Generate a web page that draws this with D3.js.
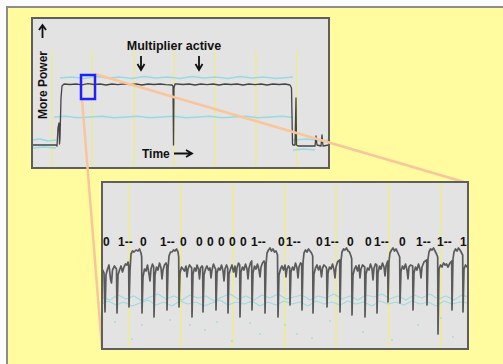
<!DOCTYPE html>
<html>
<head>
<meta charset="utf-8">
<script src="https://cdn.jsdelivr.net/npm/d3@7"></script>
<style>
  body { margin: 0; background: #fbfbfb; }
  svg { display: block; font-family: "Liberation Sans", Arial, sans-serif; }
</style>
</head>
<body>
<svg id="chart" width="503" height="364"></svg>
<script>
// upper trace: [sample, power]
const upperTrace = [
  [0, 23], [24, 23], [25, 22], [26, 40], [27, 45], [27.5, 24], [28, 30], [29, 70], [30, 82],
  [32, 84], [38, 83.5], [44, 84], [50, 83.2], [56, 84.3], [62, 83.5], [68, 84], [74, 83], [80, 84],
  [86, 83.4], [92, 84.2], [98, 83.3], [104, 84], [110, 83], [116, 84], [122, 83.5], [128, 84], [134, 83.4],
  [140, 83], [141, 82], [141.5, 23], [142, 80], [143, 84], [145, 84], [151, 83.5], [157, 84],
  [163, 83], [169, 84], [175, 83.4], [181, 84], [187, 83], [193, 84], [199, 83.5], [205, 84],
  [211, 83], [217, 84], [223, 83.4], [229, 84], [235, 83], [241, 84], [247, 83.5], [253, 84],
  [258, 83], [259.5, 80], [260.5, 24], [261, 23], [263, 23], [264, 70], [264.5, 23], [266, 22],
  [283, 22], [284, 32], [285, 23], [289, 22], [290, 33], [291, 22], [297, 23]
];
const cyanTopA = [[28, 90], [40, 91], [52, 89.5], [64, 91.5], [76, 90], [88, 91], [100, 89.5], [112, 91.5],
  [124, 90], [136, 91], [148, 89.5], [160, 91.5], [172, 90], [184, 91], [196, 89.5], [208, 91.5],
  [220, 90], [232, 91], [244, 89.5], [261, 91]];
const cyanTopB = [[22, 51], [34, 51.8], [46, 50.3], [58, 51], [70, 51.8], [82, 50.3], [94, 51], [106, 51.8],
  [118, 50.3], [130, 51], [142, 51.8], [154, 50.3], [166, 51], [178, 51.8], [190, 50.3], [202, 51],
  [214, 51.8], [226, 50.3], [238, 51], [250, 51.8], [261, 50.5]];
const cyanLeftA = [[0, 28], [8, 29], [16, 27], [24, 28]];
const cyanLeftB = [[0, 20], [12, 21], [24, 20]];
const cyanRightA = [[261, 28], [275, 29], [290, 27], [297, 28]];
const cyanRightB = [[261, 18], [272, 19], [283, 18]];
const upperGrid = [20, 60, 102, 142, 183, 224, 265];
const arrowTimes = [109, 167];
const zoomWindow = { t0: 49, t1: 63, p0: 69, p1: 93 };

// lower (zoomed) trace: [sample, power]
const lowerTrace = [
  [0, 80], [1, 78], [2, 76], [3, 37], [4, 74], [5.5, 80], [7, 84], [8.5, 70], [9.5, 66], [10.5, 79], [12.5, 83], [14.5, 80],
  [15, 36], [16, 74], [17.5, 79], [19, 83], [20.5, 77], [22, 82], [23.5, 85], [25, 84], [26, 87], [26.7, 83],
  [27, 42], [28, 78], [29, 95], [30.5, 98], [32, 97], [34, 99], [36, 98], [37.5, 100], [39, 96], [39.7, 92],
  [40, 36], [41, 72], [42.5, 80], [44, 78], [45.5, 84], [47, 75], [48, 68], [49, 80], [50.5, 85], [51.7, 82],
  [52, 32], [53, 74], [54.5, 82], [56, 79], [57.5, 86], [59, 81], [60, 70], [61, 79], [62.5, 84], [64, 86], [64.7, 84],
  [65, 39], [66, 80], [67, 93], [68.5, 97], [70, 97], [71.5, 99], [73, 98], [74.5, 100], [76, 97], [76.7, 92],
  [77, 42], [78, 76], [79.5, 82], [81, 80], [82.5, 78], [84, 83], [85, 72], [86, 80], [87.5, 84], [89, 82], [89.7, 81],
  [90, 32], [91, 75], [92.5, 81], [94, 78], [95, 84], [96.5, 80], [97.5, 70], [98.5, 81], [100, 83], [100.7, 82],
  [101, 37], [102, 74], [103.5, 80], [105, 83], [106.5, 79], [108, 81], [109, 71], [110, 79], [111.5, 85], [113, 81], [113.7, 80],
  [114, 39], [115, 76], [116.5, 81], [118, 79], [119.5, 84], [121, 78], [122, 68], [123, 80], [124.5, 84], [125.7, 81],
  [126, 36], [127, 75], [128.5, 80], [130, 84], [131.5, 77], [133, 83], [134, 72], [135, 81], [136.5, 86], [137.7, 84],
  [138, 32], [139, 77], [140.5, 82], [142, 79], [143.5, 85], [145, 80], [146, 70], [147, 81], [148.5, 86], [149.7, 88],
  [150, 39], [151, 76], [152.5, 83], [154, 80], [155.5, 85], [157, 79], [158, 72], [159, 82], [160.5, 86], [162, 88], [162.7, 86],
  [163, 36], [164, 84], [165, 96], [166.5, 99], [168, 101], [169.5, 98], [171, 100], [172.5, 97], [174, 98], [175.5, 94],
  [176, 32], [177, 74], [178.5, 80], [180, 83], [181.5, 79], [183, 84], [184, 72], [185, 80], [186.5, 83], [187.7, 81],
  [188, 44], [189, 77], [190.5, 82], [192, 79], [193.5, 86], [195, 81], [196, 71], [197, 82], [198.5, 86], [199.7, 85],
  [200, 39], [201, 86], [202, 96], [203.5, 99], [205, 97], [206.5, 100], [208, 98], [209.5, 96], [210.7, 93],
  [211, 36], [212, 75], [213.5, 81], [215, 84], [216.5, 79], [218, 83], [219.5, 72], [220.5, 81], [222, 84], [224, 82], [224.7, 80],
  [225, 42], [226, 76], [227.5, 82], [229, 80], [230.5, 85], [232, 79], [233, 71], [234, 82], [235.5, 87], [237.7, 89],
  [238, 37], [239, 88], [240, 97], [241.5, 100], [243, 99], [244.5, 101], [246, 98], [247.5, 97], [249, 93], [249.7, 90],
  [250, 34], [251, 74], [252.5, 80], [254, 83], [255.5, 78], [257, 84], [258, 71], [259, 80], [260.5, 84], [262.7, 82],
  [263, 32], [264, 75], [265.5, 81], [267, 79], [268.5, 85], [270, 80], [271, 69], [272, 81], [273.5, 85], [274.7, 84],
  [275, 36], [276, 76], [277.5, 83], [279, 80], [280.5, 86], [282, 82], [283, 73], [284, 83], [285.7, 88],
  [286, 47], [287, 88], [288, 96], [289.5, 99], [291, 101], [292.5, 98], [294, 100], [295.5, 97], [297.7, 92],
  [298, 46], [299, 78], [300.5, 83], [302, 80], [303.5, 85], [305, 79], [306, 70], [307, 82], [308.5, 84], [310.7, 83],
  [311, 39], [312, 76], [313.5, 82], [315, 79], [316.5, 85], [318, 80], [319, 71], [320, 82], [322, 87], [324.7, 89],
  [325, 44], [326, 90], [327, 97], [328.5, 100], [330, 99], [331.5, 101], [333, 98], [334.5, 95], [335.7, 92],
  [336, 15], [337, 80], [338.5, 84], [340, 82], [341.5, 86], [343, 84], [344.5, 85], [346, 82], [348, 86], [349.7, 88],
  [350, 39], [351, 90], [352, 97], [353.5, 100], [355, 98], [356.5, 101], [358, 99], [360.7, 94],
  [361, 37], [362, 80], [363.5, 84], [365, 82], [366, 83]
];
const cyanLowA = [[0, 52], [8, 49], [16, 54], [24, 50], [32, 53], [40, 48], [48, 52], [56, 55], [64, 50],
  [72, 53], [80, 49], [88, 54], [96, 51], [104, 53], [112, 48], [120, 52], [128, 55], [136, 50],
  [144, 53], [152, 49], [160, 54], [168, 51], [176, 55], [184, 50], [192, 52], [200, 54], [208, 49],
  [216, 53], [224, 51], [232, 55], [240, 50], [248, 53], [256, 49], [264, 54], [272, 52], [280, 55],
  [288, 50], [296, 53], [304, 49], [312, 54], [320, 51], [328, 55], [336, 50], [344, 53], [352, 49],
  [360, 54], [366, 52]];
const cyanLowB = [[0, 45], [6, 48], [14, 44], [22, 47], [30, 43], [38, 46], [46, 49], [54, 44], [62, 47],
  [70, 43], [78, 48], [86, 45], [94, 47], [102, 43], [110, 46], [118, 49], [126, 44], [134, 47],
  [142, 45], [150, 48], [158, 43], [166, 47], [174, 44], [182, 48], [190, 45], [198, 47], [206, 43],
  [214, 48], [222, 45], [230, 47], [238, 44], [246, 48], [254, 45], [262, 47], [270, 43], [278, 48],
  [286, 45], [294, 47], [302, 44], [310, 48], [318, 45], [326, 47], [334, 43], [342, 48], [350, 45],
  [358, 47], [366, 46]];
const cyanDots = [[13, 27], [40, 24], [68, 29], [88, 24], [103, 19], [115, 27], [148, 26], [158, 15],
  [183, 24], [195, 15], [228, 28], [261, 17], [316, 24], [339, 31], [351, 12], [30, 10], [130, 8],
  [210, 11], [290, 9]];
const lowerGrid = [27, 79, 131, 183, 234, 287, 339];
const bitText = ["0", "1--", "0", "1--", "0", "0", "0", "0", "0", "0", "1--", "0", "1--", "0", "1--",
  "0", "0", "1--", "0", "1--", "1--", "1"];
const bitTime = [1, 16, 38, 58, 78, 94, 105, 116, 127, 138, 149, 176, 184, 214, 222, 245, 263, 272,
  297, 314, 335, 358];

const svg = d3.select("#chart");

const xTop = d3.scaleLinear().domain([0, 297]).range([32, 329]);
const yTop = d3.scaleLinear().domain([0, 150]).range([168, 18]);
const xLow = d3.scaleLinear().domain([0, 366]).range([102, 468]);
const yLow = d3.scaleLinear().domain([0, 167]).range([349, 182]);

const colors = {
  frame: "#fffb9e", frameEdge: "#8c8c8c", panel: "#e3e3e3", edge: "#5e5e5e",
  grid: "#efec8a", cyan: "#8ad8e0", trace: "#444", zoomLine: "#f8c69a", box: "#2020ff"
};

// outer yellow frame
svg.append("rect").attr("x", 7).attr("y", 7).attr("width", 520).attr("height", 380)
  .attr("fill", colors.frame).attr("stroke", colors.frameEdge).attr("stroke-width", 2);

svg.append("defs").call(d => {
  d.append("clipPath").attr("id", "clipTop").append("rect")
    .attr("x", 32).attr("y", 18).attr("width", 297).attr("height", 150);
  d.append("clipPath").attr("id", "clipLow").append("rect")
    .attr("x", 102).attr("y", 182).attr("width", 366).attr("height", 167);
});

function drawLine(g, data, x, y, color, width, opacity) {
  g.append("path").datum(data)
    .attr("d", d3.line().x(d => x(d[0])).y(d => y(d[1])))
    .attr("fill", "none").attr("stroke", color).attr("stroke-width", width)
    .attr("stroke-opacity", opacity || 1).attr("stroke-linejoin", "round");
}

// ---- upper panel
svg.append("rect").attr("x", 32).attr("y", 18).attr("width", 297).attr("height", 150)
  .attr("fill", colors.panel);
const gTop = svg.append("g").attr("clip-path", "url(#clipTop)");

gTop.selectAll(".grid").data(upperGrid).join("line")
  .attr("x1", d => xTop(d)).attr("x2", d => xTop(d))
  .attr("y1", yTop(118)).attr("y2", yTop(0))
  .attr("stroke", colors.grid).attr("stroke-width", 1.3);

[cyanTopA, cyanTopB, cyanLeftA, cyanLeftB, cyanRightA, cyanRightB]
  .forEach(c => drawLine(gTop, c, xTop, yTop, colors.cyan, 1.5, 0.85));
drawLine(gTop, upperTrace, xTop, yTop, colors.trace, 1.3);

svg.append("rect").attr("x", 32).attr("y", 18).attr("width", 297).attr("height", 150)
  .attr("fill", "none").attr("stroke", colors.edge).attr("stroke-width", 2);

// annotations
svg.append("text").attr("transform", "translate(47,85) rotate(-90)")
  .attr("text-anchor", "middle").attr("font-size", 12).attr("font-weight", "bold")
  .attr("fill", "#111").text("More Power");
svg.append("path").attr("d", "M42.5,38 V26 M39,30 L42.5,25 L46,30")
  .attr("fill", "none").attr("stroke", "#111").attr("stroke-width", 1.8);

svg.append("text").attr("x", 174).attr("y", 50).attr("text-anchor", "middle")
  .attr("font-size", 12.5).attr("font-weight", "bold").attr("fill", "#111")
  .text("Multiplier active");
svg.selectAll(".down").data(arrowTimes).join("path")
  .attr("d", d => `M${xTop(d)},56 V69 M${xTop(d) - 3.5},64 L${xTop(d)},70 L${xTop(d) + 3.5},64`)
  .attr("fill", "none").attr("stroke", "#111").attr("stroke-width", 1.8);

svg.append("text").attr("x", 142).attr("y", 158)
  .attr("font-size", 12).attr("font-weight", "bold").attr("fill", "#111").text("Time");
svg.append("path").attr("d", "M174,153.5 H191 M186,150 L192,153.5 L186,157")
  .attr("fill", "none").attr("stroke", "#111").attr("stroke-width", 1.8);

// zoom connectors
const bx0 = xTop(zoomWindow.t0), bx1 = xTop(zoomWindow.t1);
const by0 = yTop(zoomWindow.p1), by1 = yTop(zoomWindow.p0);
svg.append("line").attr("x1", bx1).attr("y1", by0 - 1).attr("x2", xLow(362)).attr("y2", yLow(167))
  .attr("stroke", colors.zoomLine).attr("stroke-width", 2.5);
svg.append("line").attr("x1", bx0 + 1).attr("y1", by1).attr("x2", xLow(0)).attr("y2", yLow(1))
  .attr("stroke", colors.zoomLine).attr("stroke-width", 2.5);
svg.append("rect").attr("x", bx0).attr("y", by0).attr("width", bx1 - bx0).attr("height", by1 - by0)
  .attr("fill", "none").attr("stroke", colors.box).attr("stroke-width", 2.5);

// ---- lower panel
svg.append("rect").attr("x", 102).attr("y", 182).attr("width", 366).attr("height", 167)
  .attr("fill", colors.panel);
const gLow = svg.append("g").attr("clip-path", "url(#clipLow)");

gLow.selectAll(".grid").data(lowerGrid).join("line")
  .attr("x1", d => xLow(d)).attr("x2", d => xLow(d))
  .attr("y1", yLow(167)).attr("y2", yLow(0))
  .attr("stroke", colors.grid).attr("stroke-width", 1.5);

drawLine(gLow, cyanLowA, xLow, yLow, colors.cyan, 1.2, 0.75);
drawLine(gLow, cyanLowB, xLow, yLow, colors.cyan, 1.2, 0.75);
gLow.selectAll(".dot").data(cyanDots).join("circle")
  .attr("cx", d => xLow(d[0])).attr("cy", d => yLow(d[1])).attr("r", 0.9)
  .attr("fill", colors.cyan).attr("opacity", 0.7);

drawLine(gLow, lowerTrace, xLow, yLow, "#5a5a5a", 1.7);

gLow.selectAll(".bit").data(bitText).join("text")
  .attr("x", (d, i) => xLow(bitTime[i])).attr("y", 246)
  .attr("font-size", 12).attr("font-weight", "bold").attr("fill", "#111")
  .text(d => d);

svg.append("rect").attr("x", 102).attr("y", 182).attr("width", 366).attr("height", 167)
  .attr("fill", "none").attr("stroke", colors.edge).attr("stroke-width", 2);
</script>
</body>
</html>
